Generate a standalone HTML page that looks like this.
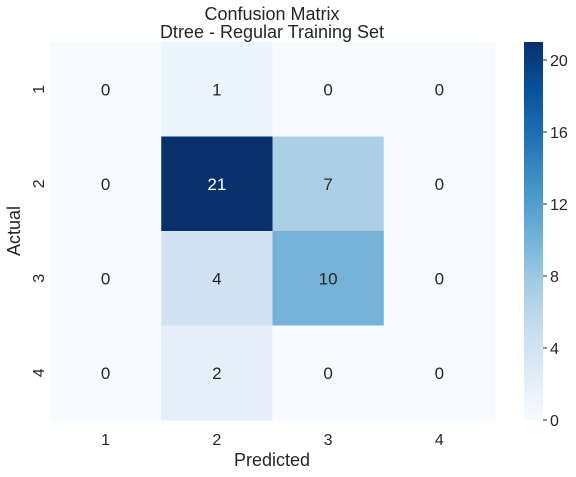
<!DOCTYPE html>
<html><head><meta charset="utf-8"><style>
body{margin:0;background:#fff;font-family:"Liberation Sans",sans-serif}
svg text{font-family:"Liberation Sans",sans-serif;fill:#262626}
</style></head><body>
<svg id="c" width="576" height="472"></svg>
<script>
const predictedLabels=["1","2","3","4"];
const actualLabels=["1","2","3","4"];
const matrixRow1=[0,1,0,0];
const matrixRow2=[0,21,7,0];
const matrixRow3=[0,4,10,0];
const matrixRow4=[0,2,0,0];
const colorbarTicks=[0,4,8,12,16,20];
const vmax=21;
const rows=[matrixRow1,matrixRow2,matrixRow3,matrixRow4];
const NS="http://www.w3.org/2000/svg",svg=document.getElementById('c');
function mk(t,a,p){const e=document.createElementNS(NS,t);for(const k in a)e.setAttribute(k,a[k]);(p||svg).appendChild(e);return e;}
const stops=[[247,251,255],[222,235,247],[198,219,239],[158,202,225],[107,174,214],[66,146,198],[33,113,181],[8,81,156],[8,48,107]];
function blues(v){let t=Math.max(0,Math.min(1,v/vmax))*(stops.length-1);let i=Math.min(Math.floor(t),stops.length-2),f=t-i;const a=stops[i],b=stops[i+1];return `rgb(${a.map((x,j)=>Math.round(x+(b[j]-x)*f)).join(',')})`;}
const X0=50,X1=495,Y0=42,Y1=420,cw=(X1-X0)/4,ch=(Y1-Y0)/4;
const xs=i=>X0+i*cw, ys=i=>Y0+i*ch;
rows.forEach((r,ri)=>r.forEach((v,ci)=>{
 const rc=mk('rect',{x:xs(ci),y:ys(ri),width:cw+0.5,height:ch+0.5,fill:blues(v)});
 
 
 const t=mk('text',{x:xs(ci)+cw/2,y:ys(ri)+ch/2+6,'text-anchor':'middle','font-size':17});
 t.style.fill=v>vmax/2?'#fff':'#262626';
 t.textContent=v;
 
 
}));
predictedLabels.forEach((l,i)=>{
 const t=mk('text',{x:xs(i)+cw/2,y:445,'text-anchor':'middle','font-size':16});t.textContent=l;
 
 
});
actualLabels.forEach((l,i)=>{
 const cy=ys(i)+ch/2;
 const t=mk('text',{x:38,y:cy,'text-anchor':'middle','font-size':16,transform:`rotate(-90 38 ${cy})`,dy:6});t.textContent=l;
 
 
});
let t=mk('text',{x:272,y:466,'text-anchor':'middle','font-size':18});t.textContent='Predicted';

t=mk('text',{x:20,y:231,'text-anchor':'middle','font-size':18,transform:'rotate(-90 20 231)'});t.textContent='Actual';

t=mk('text',{x:272,y:20,'text-anchor':'middle','font-size':18});t.textContent='Confusion Matrix';

t=mk('text',{x:272,y:38,'text-anchor':'middle','font-size':18});t.textContent='Dtree - Regular Training Set';

const CX=524,CW=19,cy=v=>Y1-v/vmax*(Y1-Y0);
const defs=mk('defs',{});const g=mk('linearGradient',{id:'gb',x1:0,y1:1,x2:0,y2:0},defs);
stops.forEach((s,i)=>mk('stop',{offset:i/(stops.length-1),'stop-color':`rgb(${s})`},g));
const cb=mk('rect',{x:CX,y:Y0,width:CW,height:Y1-Y0,fill:'url(#gb)'});

colorbarTicks.forEach(v=>{
 mk('line',{x1:CX+CW,x2:CX+CW+4,y1:cy(v),y2:cy(v),stroke:'#262626','stroke-width':1});
 const tt=mk('text',{x:CX+CW+7,y:cy(v)+6,'font-size':16});tt.textContent=v;
 
 
});
</script>
</body></html>
